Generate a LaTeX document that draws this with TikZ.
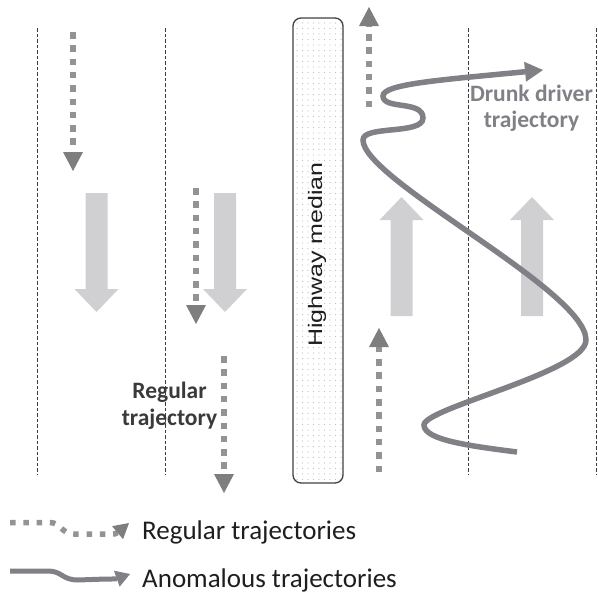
\documentclass[tikz,border=0pt]{standalone}
\usepackage{fontspec}
\usetikzlibrary{arrows.meta,patterns.meta}
\newfontfamily\carlito{Carlito}
\newfontfamily\libsans{Liberation Sans}

\definecolor{lanecol}{HTML}{3C3C3C}
\definecolor{blockcol}{HTML}{D0D0D2}
\definecolor{dotcol}{HTML}{939393}
\definecolor{headcol}{HTML}{7E7E7E}
\definecolor{drunkcol}{HTML}{808086}
\definecolor{boxcol}{HTML}{404040}
\definecolor{labelcol}{HTML}{3A3A3A}
\definecolor{inkcol}{HTML}{1E1E1E}

\tikzset{
  laneline/.style={draw=lanecol, line width=0.9pt, dash pattern=on 3.5pt off 2pt},
  regtraj/.style={draw=dotcol, line width=6.5pt, dash pattern=on 6.5pt off 6.8pt,
    -{Triangle[length=19pt,width=20pt,line width=0pt,color=headcol,fill=headcol]}},
  regkey/.style={draw=dotcol, line width=5.5pt, dash pattern=on 5.5pt off 7.8pt,
    -{Triangle[length=15pt,width=17pt,line width=0pt,color=headcol,fill=headcol]}},
  drunk/.style={draw=drunkcol, line width=5.5pt,
    -{Triangle[length=18pt,width=20pt,line width=0pt,color=drunkcol,fill=drunkcol]}},
  anomkey/.style={draw=drunkcol, line width=5pt,
    -{Triangle[length=14pt,width=17pt,line width=0pt,color=drunkcol,fill=drunkcol]}},
  median/.style={draw=boxcol, line width=1.3pt, rounded corners=8pt,
    pattern={Dots[distance=5.5pt,radius=0.6pt]}, pattern color=black!25,
    minimum width=50pt, minimum height=465pt, inner sep=0pt},
  boldlabel/.style={font=\carlito\bfseries\fontsize{23.5}{26.5}\selectfont,
    align=center, inner sep=0pt},
  legendtext/.style={font=\carlito\fontsize{27}{32}\selectfont, text=inkcol,
    inner sep=0pt, anchor=base west},
  % light block arrow showing the direction of traffic; the tip sits at the pic origin
  pics/lanearrow/.style={code={
    \fill[blockcol] (0,0) -- (22,23) -- (11,23) -- (11,119) -- (-11,119)
      -- (-11,23) -- (-22,23) -- cycle;}}
}

\begin{document}
\begin{tikzpicture}[x=1pt,y=-1pt]
\useasboundingbox (0,0) rectangle (598,595);

% lane separators
\foreach \lx in {37,165,468,596}
  \draw[laneline] (\lx,28) -- (\lx,475);

% direction of traffic in each lane
\pic[rotate=180] at (96.5,312) {lanearrow};
\pic[rotate=180] at (225,312) {lanearrow};
\pic at (401.5,197) {lanearrow};
\pic at (532,197) {lanearrow};

% the median strip
\node[median] (median) at (318,250.5) {};
\node[rotate=90, anchor=base west, inner sep=0pt, text=inkcol,
      font=\libsans\fontsize{19.5}{22}\selectfont] (medianlabel) at (322,347)
  {\scalebox{1.28}[1]{Highway median}};

% regular trajectories
\coordinate (a0) at (73,32);   \coordinate (a1) at (73,171);
\coordinate (b0) at (196,188); \coordinate (b1) at (196,324);
\coordinate (c0) at (224,356); \coordinate (c1) at (224,493);
\coordinate (d0) at (379,472); \coordinate (d1) at (379,328);
\coordinate (e0) at (369,107); \coordinate (e1) at (369,7);
\draw[regtraj] (a0) -- (a1);
\draw[regtraj] (b0) -- (b1);
\draw[regtraj] (c0) -- (c1);
\draw[regtraj] (d0) -- (d1);
\draw[regtraj] (e0) -- (e1);

\node[boldlabel, text=labelcol] (reglabel) at (169.5,405.5) {Regular\\trajectory};

% the drunk driver weaving across the lanes
\coordinate (w0) at (517,452);
\coordinate (w1) at (543,70);
\draw[drunk] (w0) .. controls (470,446) and (424,440) .. (424,425)
  .. controls (424,408) and (586,372) .. (586,340)
  .. controls (586,290) and (363,180) .. (363,140)
  .. controls (363,125) and (423,135) .. (423,118)
  .. controls (423,100) and (383,110) .. (383,96)
  .. controls (383,84) and (440,80) .. (w1);

\node[boldlabel, text=drunkcol] (drunklabel) at (531.5,108) {Drunk driver\\trajectory};

% key
\coordinate (k0) at (10,522.5); \coordinate (k1) at (129,523);
\draw[regkey] (k0) -- (50,522.5) .. controls (60,522.5) and (62,534) .. (74,534)
  -- (106,534) .. controls (116,534) .. (k1);
\node[legendtext] (regkeytext) at (142,539) {Regular trajectories};

\coordinate (m0) at (10,571); \coordinate (m1) at (130,574);
\draw[anomkey] (m0) -- (48,571) .. controls (62,571) and (62,580) .. (78,580)
  -- (106,579) .. controls (116,579) .. (m1);
\node[legendtext] (anomkeytext) at (142,587.5) {Anomalous trajectories};
\end{tikzpicture}
\end{document}
